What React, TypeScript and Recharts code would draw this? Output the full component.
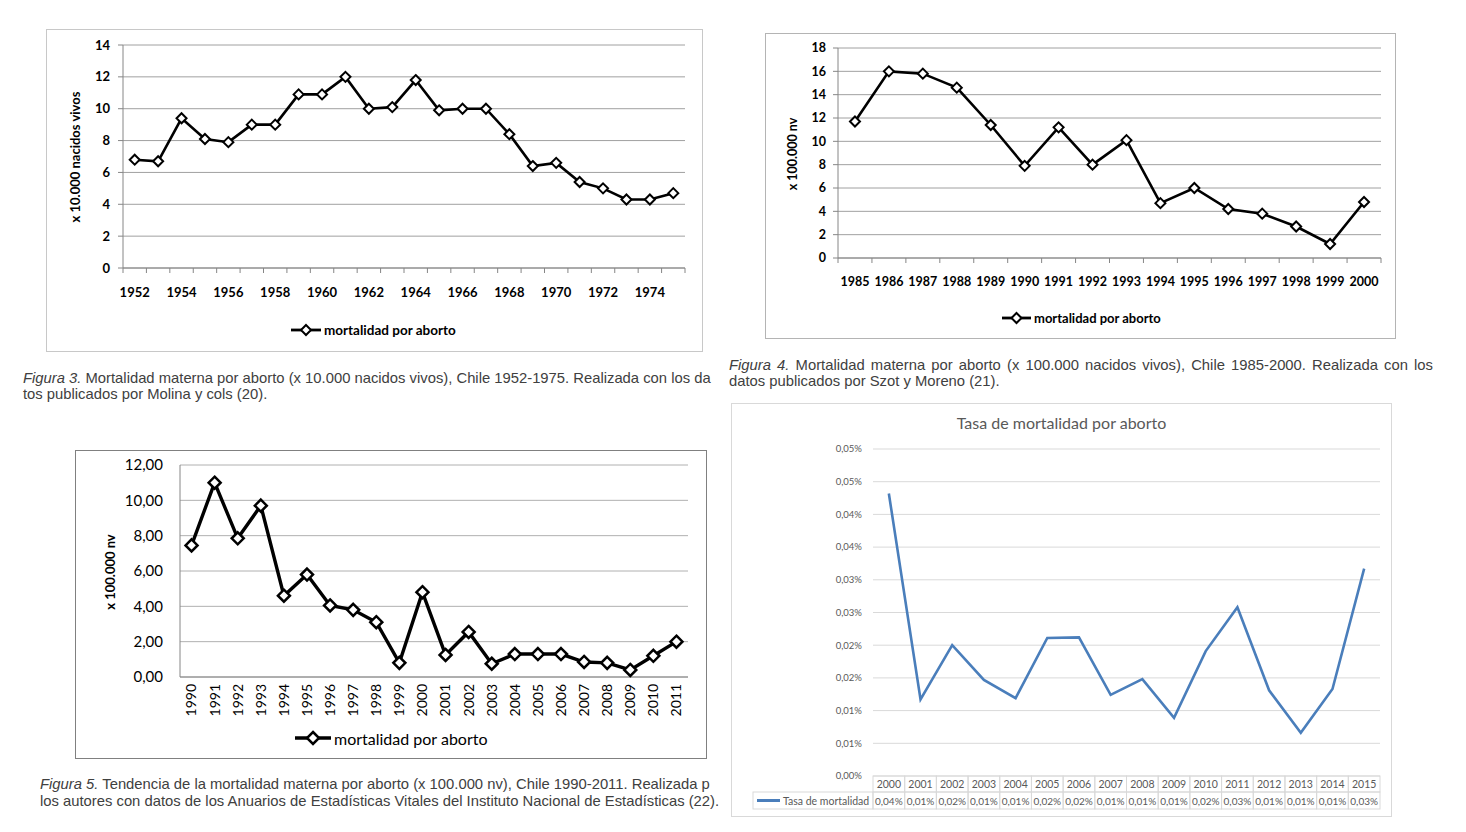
import React from 'react'
import { LineChart, Line, XAxis, YAxis, CartesianGrid } from 'recharts'

// Figura 3: 1952-1975, x 10.000 nacidos vivos
const years3 = ['1952', '1953', '1954', '1955', '1956', '1957', '1958', '1959', '1960', '1961', '1962', '1963', '1964', '1965', '1966', '1967', '1968', '1969', '1970', '1971', '1972', '1973', '1974', '1975']
const values3 = [6.8, 6.7, 9.4, 8.1, 7.9, 9.0, 9.0, 10.9, 10.9, 12.0, 10.0, 10.1, 11.8, 9.9, 10.0, 10.0, 8.4, 6.4, 6.6, 5.4, 5.0, 4.3, 4.3, 4.7]
const yTicks3 = [0, 2, 4, 6, 8, 10, 12, 14]

// Figura 4: 1985-2000, x 100.000 nv
const years4 = ['1985', '1986', '1987', '1988', '1989', '1990', '1991', '1992', '1993', '1994', '1995', '1996', '1997', '1998', '1999', '2000']
const values4 = [11.7, 16.0, 15.8, 14.6, 11.4, 7.9, 11.2, 8.0, 10.1, 4.7, 6.0, 4.2, 3.8, 2.7, 1.2, 4.8]
const yTicks4 = [0, 2, 4, 6, 8, 10, 12, 14, 16, 18]

// Figura 5: 1990-2011
const years5 = ['1990', '1991', '1992', '1993', '1994', '1995', '1996', '1997', '1998', '1999', '2000', '2001', '2002', '2003', '2004', '2005', '2006', '2007', '2008', '2009', '2010', '2011']
const values5 = [7.45, 11.0, 7.85, 9.7, 4.6, 5.8, 4.05, 3.8, 3.1, 0.8, 4.8, 1.25, 2.55, 0.75, 1.3, 1.3, 1.3, 0.85, 0.8, 0.4, 1.2, 2.0]
const yTicks5 = [0, 2, 4, 6, 8, 10, 12]
const yTickLabels5 = ['0,00', '2,00', '4,00', '6,00', '8,00', '10,00', '12,00']

// Tasa de mortalidad por aborto 2000-2015 (%)
const years6 = ['2000', '2001', '2002', '2003', '2004', '2005', '2006', '2007', '2008', '2009', '2010', '2011', '2012', '2013', '2014', '2015']
const values6 = [0.0432, 0.0117, 0.02, 0.0147, 0.0119, 0.0211, 0.0212, 0.0124, 0.0148, 0.0089, 0.0191, 0.0258, 0.0131, 0.0066, 0.0133, 0.0317]
const yTicks6 = [0, 0.005, 0.01, 0.015, 0.02, 0.025, 0.03, 0.035, 0.04, 0.045, 0.05]
const yTickLabels6 = ['0,00%', '0,01%', '0,01%', '0,02%', '0,02%', '0,03%', '0,03%', '0,04%', '0,04%', '0,05%', '0,05%']

const toRows = (cats: string[], vals: number[]) => cats.map((year, i) => ({ year, value: vals[i] }))
const data3 = toRows(years3, values3)
const data4 = toRows(years4, values4)
const data5 = toRows(years5, values5)
const data6 = toRows(years6, values6)

const FONT = 'Lato, "Open Sans", sans-serif'
const CAPTION_FONT = '"Liberation Sans", Arial, sans-serif'

const diamond = (r: number, sw: number) => (p: any) => (
  <path
    key={`d-${p.index}`}
    d={`M${p.cx},${p.cy - r}L${p.cx + r},${p.cy}L${p.cx},${p.cy + r}L${p.cx - r},${p.cy}Z`}
    fill="#fff"
    stroke="#000"
    strokeWidth={sw}
  />
)

// x tick with tick marks on category boundaries (Excel style)
function bandTick(o: { bw: number; count: number; every: number; size: number; bold: boolean; dy: number; tickLen: number; rotate?: boolean }) {
  return (p: any) => {
    const { x, y, payload, index } = p
    const left = x - o.bw / 2
    const show = index % o.every === 0
    return (
      <g key={`t-${index}`}>
        {o.tickLen > 0 && <line x1={left} x2={left} y1={y} y2={y + o.tickLen} stroke="#868686" />}
        {o.tickLen > 0 && index === o.count - 1 && (
          <line x1={left + o.bw} x2={left + o.bw} y1={y} y2={y + o.tickLen} stroke="#868686" />
        )}
        {show && !o.rotate && (
          <text x={x} y={y + o.dy} textAnchor="middle" fontFamily={FONT} fontSize={o.size} fontWeight={o.bold ? 700 : 400} fill="#000">
            {payload.value}
          </text>
        )}
        {show && o.rotate && (
          <text transform={`translate(${x},${y + o.dy}) rotate(-90)`} textAnchor="end" dy="0.35em" fontFamily={FONT} fontSize={o.size} fill="#000">
            {payload.value}
          </text>
        )}
      </g>
    )
  }
}

function tableTick(bw: number) {
  return (p: any) => {
    const { x, y, payload, index } = p
    const left = x - bw / 2
    const v = values6[index]
    const label = (Math.round(v * 100) / 100).toFixed(2).replace('.', ',') + '%'
    return (
      <g key={`tt-${index}`} fontFamily={FONT} fill="#595959">
        <rect x={left} y={y} width={bw} height={16} fill="none" stroke="#d9d9d9" />
        <rect x={left} y={y + 16} width={bw} height={17} fill="none" stroke="#d9d9d9" />
        <text x={x} y={y + 12} textAnchor="middle" fontSize={10.5} fill="#595959">{payload.value}</text>
        <text x={x} y={y + 29} textAnchor="middle" fontSize={10} fill="#595959">{label}</text>
        {index === 0 && (
          <g>
            <rect x={left - 120} y={y + 16} width={120} height={17} fill="none" stroke="#d9d9d9" />
            <line x1={left - 116} x2={left - 93} y1={y + 24.5} y2={y + 24.5} stroke="#4a7ebb" strokeWidth={3} />
            <text x={left - 90} y={y + 29} fontSize={10.5} fill="#595959">Tasa de mortalidad</text>
          </g>
        )}
      </g>
    )
  }
}

const abs = (left: number, top: number, extra: React.CSSProperties = {}): React.CSSProperties => ({
  position: 'absolute',
  left,
  top,
  ...extra,
})

function Box({ l, t, w, h, color }: { l: number; t: number; w: number; h: number; color: string }) {
  return <div style={abs(l, t, { width: w, height: h, border: `1px solid ${color}`, boxSizing: 'border-box' })} />
}

function VLabel({ cx, cy, text, size, bold }: { cx: number; cy: number; text: string; size: number; bold?: boolean }) {
  return (
    <div
      style={abs(cx, cy, {
        transform: 'translate(-50%, -50%) rotate(-90deg)',
        whiteSpace: 'nowrap',
        fontFamily: FONT,
        fontSize: size,
        fontWeight: bold ? 700 : 400,
        color: '#000',
        lineHeight: 1,
      })}
    >
      {text}
    </div>
  )
}

function LegendItem({ l, cy, size, bold, lineW, r, sw }: { l: number; cy: number; size: number; bold?: boolean; lineW: number; r: number; sw: number }) {
  return (
    <div style={abs(l, cy - 10, { height: 20, display: 'flex', alignItems: 'center', gap: 3, whiteSpace: 'nowrap' })}>
      <svg width={lineW} height={16}>
        <line x1={0} x2={lineW} y1={8} y2={8} stroke="#000" strokeWidth={sw + 0.8} />
        <path d={`M${lineW / 2},${8 - r}L${lineW / 2 + r},8L${lineW / 2},${8 + r}L${lineW / 2 - r},8Z`} fill="#fff" stroke="#000" strokeWidth={sw} />
      </svg>
      <span style={{ fontFamily: FONT, fontSize: size, fontWeight: bold ? 700 : 400, color: '#000' }}>mortalidad por aborto</span>
    </div>
  )
}

const captionLine = (extra: React.CSSProperties = {}): React.CSSProperties => ({
  fontFamily: CAPTION_FONT,
  fontSize: 14.8,
  lineHeight: '16.5px',
  color: '#404040',
  whiteSpace: 'nowrap',
  ...extra,
})

export default function App() {
  // plot rectangles (page coordinates)
  const bw3 = (685 - 123) / years3.length
  const bw4 = (1381 - 838) / years4.length
  const bw5 = (688 - 180) / years5.length
  const bw6 = (1380 - 873) / years6.length

  return (
    <div style={{ position: 'absolute', left: 0, top: 0, width: 1466, height: 832, background: '#fff', overflow: 'hidden' }}>
      {/* Figura 3 */}
      <Box l={46} t={29} w={657} h={323} color="#c8c8c8" />
      <div style={abs(46, 29)}>
        <LineChart width={657} height={323} data={data3} margin={{ top: 16, right: 18, left: 17, bottom: 54 }}>
          <CartesianGrid horizontal vertical={false} stroke="#a0a0a0" />
          <XAxis
            dataKey="year"
            scale="band"
            interval={0}
            height={30}
            tickSize={0}
            tickMargin={0}
            tickLine={false}
            axisLine={{ stroke: '#868686' }}
            tick={bandTick({ bw: bw3, count: years3.length, every: 2, size: 13, bold: true, dy: 29, tickLen: 5 })}
          />
          <YAxis
            width={60}
            domain={[0, 14]}
            ticks={yTicks3}
            interval={0}
            tickSize={5}
            tickMargin={8}
            axisLine={{ stroke: '#868686' }}
            tickLine={{ stroke: '#868686' }}
            tick={{ fontFamily: FONT, fontSize: 13, fontWeight: 700, fill: '#000' }}
          />
          <Line dataKey="value" stroke="#000" strokeWidth={2.6} dot={diamond(5, 2)} isAnimationActive={false} />
        </LineChart>
      </div>
      <VLabel cx={75} cy={157} text="x 10.000 nacidos vivos" size={13} bold />
      <LegendItem l={291} cy={330} size={13.5} bold lineW={30} r={5} sw={2} />

      {/* Figura 4 */}
      <Box l={765} t={33} w={631} h={306} color="#b4b4b4" />
      <div style={abs(765, 33)}>
        <LineChart width={631} height={306} data={data4} margin={{ top: 15, right: 15, left: 23, bottom: 51 }}>
          <CartesianGrid horizontal vertical={false} stroke="#a0a0a0" />
          <XAxis
            dataKey="year"
            scale="band"
            interval={0}
            height={30}
            tickSize={0}
            tickMargin={0}
            tickLine={false}
            axisLine={{ stroke: '#868686' }}
            tick={bandTick({ bw: bw4, count: years4.length, every: 1, size: 12.5, bold: true, dy: 28, tickLen: 5 })}
          />
          <YAxis
            width={50}
            domain={[0, 18]}
            ticks={yTicks4}
            interval={0}
            tickSize={5}
            tickMargin={7}
            axisLine={{ stroke: '#868686' }}
            tickLine={{ stroke: '#868686' }}
            tick={{ fontFamily: FONT, fontSize: 12.5, fontWeight: 700, fill: '#000' }}
          />
          <Line dataKey="value" stroke="#000" strokeWidth={2.6} dot={diamond(5, 2)} isAnimationActive={false} />
        </LineChart>
      </div>
      <VLabel cx={793} cy={154} text="x 100.000 nv" size={12.5} bold />
      <LegendItem l={1002} cy={318} size={13} bold lineW={29} r={5} sw={2} />

      {/* captions, first row */}
      <div style={abs(23, 369.5, { width: 695 })}>
        <div style={captionLine()}>
          <i>Figura 3.</i> Mortalidad materna por aborto (x 10.000 nacidos vivos), Chile 1952-1975. Realizada con los da
        </div>
        <div style={captionLine()}>tos publicados por Molina y cols (20).</div>
      </div>
      <div style={abs(729, 356.5, { width: 704 })}>
        <div style={captionLine({ textAlign: 'justify', textAlignLast: 'justify' })}>
          <i>Figura 4.</i> Mortalidad materna por aborto (x 100.000 nacidos vivos), Chile 1985-2000. Realizada con los
        </div>
        <div style={captionLine()}>datos publicados por Szot y Moreno (21).</div>
      </div>

      {/* Figura 5 */}
      <Box l={75} t={450} w={632} h={309} color="#808080" />
      <div style={abs(75, 450)}>
        <LineChart width={632} height={309} data={data5} margin={{ top: 15, right: 19, left: 45, bottom: 32 }}>
          <CartesianGrid horizontal vertical={false} stroke="#b0b0b0" />
          <XAxis
            dataKey="year"
            scale="band"
            interval={0}
            height={50}
            tickSize={0}
            tickMargin={0}
            tickLine={false}
            axisLine={{ stroke: '#868686' }}
            tick={bandTick({ bw: bw5, count: years5.length, every: 1, size: 14, bold: false, dy: 7, tickLen: 0, rotate: true })}
          />
          <YAxis
            width={60}
            domain={[0, 12]}
            ticks={yTicks5}
            interval={0}
            tickSize={0}
            tickMargin={17}
            tickLine={false}
            axisLine={{ stroke: '#868686' }}
            tickFormatter={(_v: number, i: number) => yTickLabels5[i]}
            tick={{ fontFamily: FONT, fontSize: 15, fill: '#000' }}
          />
          <Line dataKey="value" stroke="#000" strokeWidth={3.4} dot={diamond(6, 2.5)} isAnimationActive={false} />
        </LineChart>
      </div>
      <VLabel cx={110} cy={572} text="x 100.000 nv" size={13} bold />
      <LegendItem l={295} cy={738} size={16} lineW={36} r={6} sw={2.5} />

      <div style={abs(40, 776, { width: 690 })}>
        <div style={captionLine()}>
          <i>Figura 5.</i> Tendencia de la mortalidad materna por aborto (x 100.000 nv), Chile 1990-2011. Realizada p
        </div>
        <div style={captionLine()}>los autores con datos de los Anuarios de Estadísticas Vitales del Instituto Nacional de Estadísticas (22).</div>
      </div>

      {/* Tasa de mortalidad por aborto */}
      <Box l={731} t={403} w={661} h={414} color="#d9d9d9" />
      <div style={abs(731, 403)}>
        <LineChart width={661} height={414} data={data6} margin={{ top: 46, right: 12, left: 82, bottom: 8 }}>
          <CartesianGrid horizontal vertical={false} stroke="#d9d9d9" />
          <XAxis
            dataKey="year"
            scale="band"
            interval={0}
            height={33}
            tickSize={0}
            tickMargin={0}
            tickLine={false}
            axisLine={false}
            tick={tableTick(bw6)}
          />
          <YAxis
            width={60}
            domain={[0, 0.05]}
            ticks={yTicks6}
            interval={0}
            tickSize={0}
            tickMargin={11}
            tickLine={false}
            axisLine={false}
            tickFormatter={(_v: number, i: number) => yTickLabels6[i]}
            tick={{ fontFamily: FONT, fontSize: 9.5, fill: '#595959' }}
          />
          <Line dataKey="value" stroke="#4a7ebb" strokeWidth={2.6} dot={false} isAnimationActive={false} />
        </LineChart>
      </div>
      <div style={abs(731, 413, { width: 661, textAlign: 'center', fontFamily: FONT, fontSize: 16, color: '#595959' })}>
        Tasa de mortalidad por aborto
      </div>
    </div>
  )
}
